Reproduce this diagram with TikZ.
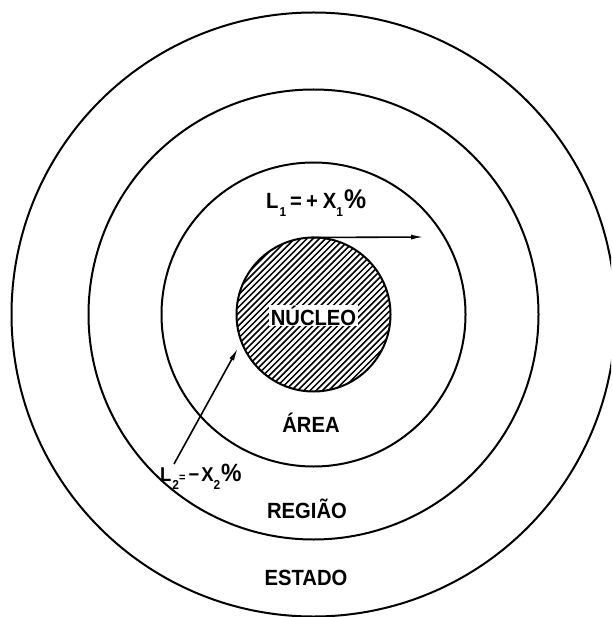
\documentclass[tikz,border=0pt]{standalone}
\usepackage{fontspec}
\setmainfont{Liberation Sans}
\newfontfamily\lettering[FakeStretch=0.92]{Liberation Sans}
\usetikzlibrary{arrows.meta}
\tikzset{
  ring/.style={line width=2pt},
  hatchline/.style={line width=1.5pt},
  arr/.style={line width=1.6pt,-{Latex[length=13pt,width=5pt]}},
  lbl/.style={inner sep=0pt,font=\lettering\fontsize{22}{26}\selectfont\bfseries},
}
\newcommand{\mysub}[1]{\raisebox{-8pt}{\fontsize{13}{13}\selectfont #1}}
\begin{document}
\begin{tikzpicture}[x=1pt,y=-1pt]
\useasboundingbox (0,0) rectangle (611,617);
\clip (0,0) rectangle (611,617);
\coordinate (c) at (313.5,314.5);
% rings
\draw[ring] (c) circle[radius=302];
\draw[ring] (c) circle[radius=225];
\draw[ring] (c) circle[radius=152];
% nucleus hatching
\begin{scope}
  \clip (c) circle[radius=77];
  \foreach \k in {0,...,55} {
    \draw[hatchline] ({465+\k*6.2-400},400) -- ({465+\k*6.2-220},220);
  }
\end{scope}
\draw[ring] (c) circle[radius=77];
% labels
\node[lbl,anchor=base,fill=white,inner xsep=1.5pt,inner ysep=1pt] (nucleo) at (313.5,325) {NÚCLEO};
\node[lbl,anchor=base] (area) at (311,432) {ÁREA};
\node[lbl,anchor=base] (regiao) at (307,518) {REGIÃO};
\node[lbl,anchor=base] (estado) at (306,585) {ESTADO};
\node[lbl,anchor=base west] (l1) at (266,209)
  {L\kern1pt\mysub{1}\kern4pt=\kern4pt+\kern5pt X\mysub{1}\kern1pt{\fontsize{27}{27}\selectfont\%}};
\node[lbl,anchor=base west,font=\lettering\fontsize{20}{24}\selectfont\bfseries] (l2) at (160,481)
  {L\kern1pt\mysub{2}\kern0pt{\fontsize{12}{12}\selectfont=}\kern3pt−\kern2pt X\mysub{2}\kern1pt{\fontsize{25}{25}\selectfont\%}};
% arrows
\coordinate (a1start) at (311,237.5);
\coordinate (a1end) at (424,237);
\draw[arr] (a1start) -- (a1end);
\coordinate (a2tail) at (174,464);
\coordinate (a2tip) at (238,348);
\draw[arr] (a2tail) -- (a2tip);
\end{tikzpicture}
\end{document}
